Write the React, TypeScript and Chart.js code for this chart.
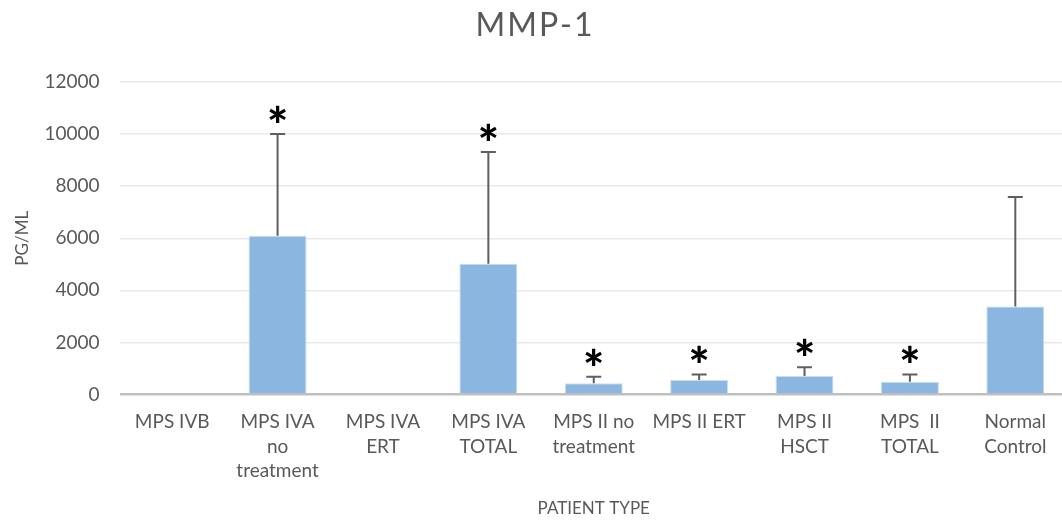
import React, { useEffect, useRef } from "react";
import { Chart, registerables } from "chart.js";

Chart.register(...registerables);

const categories: string[][] = [
  ["MPS IVB"],
  ["MPS IVA", "no", "treatment"],
  ["MPS IVA", "ERT"],
  ["MPS IVA", "TOTAL"],
  ["MPS II no", "treatment"],
  ["MPS II ERT"],
  ["MPS II", "HSCT"],
  ["MPS  II", "TOTAL"],
  ["Normal", "Control"],
];
const meanValues: (number | null)[] = [null, 6100, null, 5020, 430, 560, 710, 490, 3380];
const errorPlus: number[] = [0, 3900, 0, 4290, 250, 210, 340, 280, 4200];
const significant: boolean[] = [false, true, false, true, true, true, true, true, false];
const yTicks: number[] = [0, 2000, 4000, 6000, 8000, 10000, 12000];

const TEXT = "#595959";
const FONT = "Lato, 'Open Sans', sans-serif";

const errorBarPlugin = {
  id: "errorBars",
  afterDatasetsDraw(chart: any) {
    const ctx = chart.ctx;
    const meta = chart.getDatasetMeta(0);
    const y = chart.scales.y;
    ctx.save();
    meta.data.forEach((bar: any, i: number) => {
      const m = meanValues[i];
      if (m == null) return;
      const e = errorPlus[i];
      const x = bar.x;
      const yTop = y.getPixelForValue(m + e);
      const yBase = y.getPixelForValue(m);
      if (e > 0) {
        ctx.strokeStyle = "#5f5f5f";
        ctx.lineWidth = 2;
        ctx.beginPath();
        ctx.moveTo(x, yBase);
        ctx.lineTo(x, yTop);
        ctx.moveTo(x - 7.5, yTop);
        ctx.lineTo(x + 7.5, yTop);
        ctx.stroke();
      }
      if (significant[i]) {
        ctx.fillStyle = "#000";
        ctx.font = "900 50px " + FONT;
        ctx.textAlign = "center";
        ctx.textBaseline = "alphabetic";
        const mt = ctx.measureText("*");
        const asc = mt.actualBoundingBoxAscent;
        const desc = mt.actualBoundingBoxDescent;
        const cy = yTop - 20;
        ctx.fillText("*", x, cy + (asc - desc) / 2);
      }
    });
    ctx.restore();
  },
};

export default function App() {
  const ref = useRef<HTMLCanvasElement | null>(null);
  useEffect(() => {
    if (!ref.current) return;
    const chart = new Chart(ref.current, {
      type: "bar",
      data: {
        labels: categories,
        datasets: [
          {
            data: meanValues,
            backgroundColor: "rgb(139,182,223)",
            borderColor: "rgba(200,222,242,1)",
            borderWidth: 1,
            barPercentage: 0.55,
            categoryPercentage: 1,
          },
        ],
      },
      options: {
        responsive: false,
        animation: false,
        layout: { padding: 0 },
        plugins: {
          legend: { display: false },
          tooltip: { enabled: false },
          title: {
            display: true,
            text: "M M P - 1".replace(/ /g, "\u200A"),
            color: TEXT,
            font: { family: FONT, size: 32, weight: "normal" },
            padding: { top: 6, bottom: 37.6 },
          },
        },
        scales: {
          x: {
            grid: { display: false, drawTicks: false },
            border: { display: false },
            ticks: {
              color: TEXT,
              font: { family: FONT, size: 19, lineHeight: 1.3 },
              padding: 15,
              maxRotation: 0,
              autoSkip: false,
            },
            title: {
              display: true,
              text: "PATIENT TYPE",
              color: TEXT,
              font: { family: FONT, size: 17 },
              padding: { top: 0, bottom: 2 },
            },
            afterFit(scale: any) {
              scale.height = 126.5;
            },
          },
          y: {
            min: 0,
            max: 12000,
            afterBuildTicks(scale: any) {
              scale.ticks = yTicks.map((v) => ({ value: v }));
            },
            grid: {
              drawTicks: false,
              color: (c: any) => (c.tick && c.tick.value === 0 ? "#bfbfbf" : "#e9e9e9"),
              lineWidth: (c: any) => (c.tick && c.tick.value === 0 ? 2.5 : 1.5),
            },
            border: { display: false },
            ticks: {
              color: TEXT,
              font: { family: FONT, size: 19 },
              padding: 20,
              callback: (v: any) => String(v),
            },
            title: {
              display: true,
              text: "PG/ML",
              color: TEXT,
              font: { family: FONT, size: 17 },
              padding: { top: 12, bottom: 0 },
            },
            afterFit(scale: any) {
              scale.width = 119.5;
            },
          },
        },
      },
      plugins: [errorBarPlugin],
    });
    return () => chart.destroy();
  }, []);
  return (
    <div
      style={{
        position: "fixed",
        left: 0,
        top: 0,
        width: 1062,
        height: 521,
        overflow: "hidden",
        background: "#fff",
      }}
    >
      <canvas ref={ref} width={1068} height={521} style={{ display: "block" }} />
    </div>
  );
}
